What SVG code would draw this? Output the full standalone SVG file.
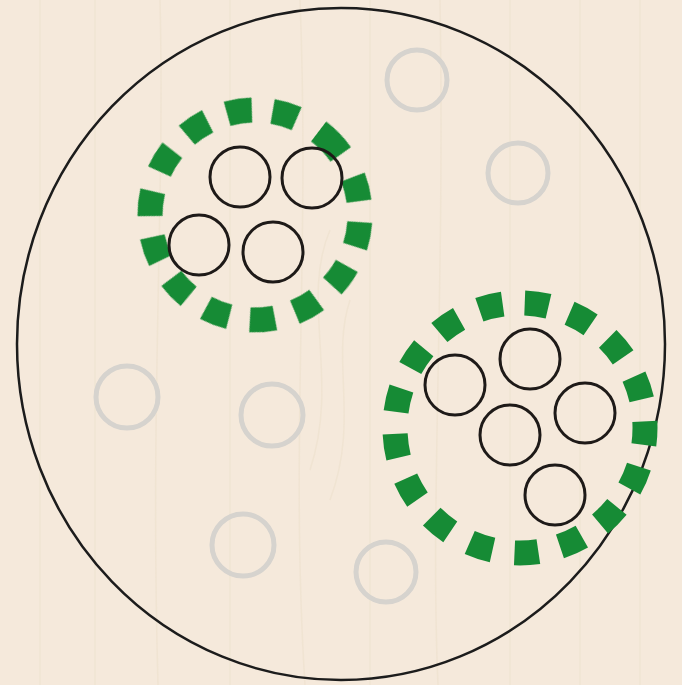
<svg xmlns="http://www.w3.org/2000/svg" width="682" height="685" viewBox="0 0 682 685">
<defs>
<filter id="soft" x="-20%" y="-20%" width="140%" height="140%"><feGaussianBlur stdDeviation="0.7"/></filter>
<filter id="softg" x="-20%" y="-20%" width="140%" height="140%"><feGaussianBlur stdDeviation="0.6"/></filter>
<style>
.bg{fill:#f5e9db}
.grain{stroke:#eee1cf;stroke-width:1.5;fill:none;opacity:0.7}
.outer{fill:none;stroke:#1c1c1c;stroke-width:2.5}
.ring{fill:none;stroke:#1e1a18;stroke-width:3}
.ghost{fill:none;stroke:#d6d3ce;stroke-width:5;filter:url(#soft)}
.group{fill:none;stroke:#178b36;stroke-width:25;filter:url(#softg)}
</style>
</defs>
<rect class="bg" x="0" y="0" width="682" height="685"/>
<g id="grain">
<path class="grain" d="M40 0 V685 M95 0 V685 M160 0 C165 200 150 400 158 685 M230 0 V685 M300 0 C310 250 290 450 305 685 M370 0 V685 M440 0 C445 300 430 500 438 685 M510 0 V685 M580 0 V685 M640 0 V685"/>
<path class="grain" d="M330 230 C300 300 340 380 310 470 M350 300 C330 360 360 420 330 500"/>
</g>
<g id="boundary">
<ellipse class="outer" cx="341" cy="344" rx="324" ry="336"/>
</g>
<g id="cluster-top-left">
<circle class="group" cx="255" cy="215" r="105" transform="rotate(307.3 255 215)" stroke-dasharray="32 25.7 25 20.9 25 20.9 25 20.9 25 20.9 25 20.9 25 20.9 25 20.9 25 20.9 25 20.9 25 20.9 25 20.9 25 20.9 25 26.2"/>
<circle class="ring" cx="240" cy="177" r="30"/>
<circle class="ring" cx="312" cy="178" r="30"/>
<circle class="ring" cx="199" cy="245" r="30"/>
<circle class="ring" cx="273" cy="252" r="30"/>
</g>
<g id="cluster-right">
<circle class="group" cx="520" cy="428" r="125" stroke-dasharray="24 22.2" stroke-dashoffset="7"/>
<circle class="ring" cx="455" cy="385" r="30"/>
<circle class="ring" cx="530" cy="359" r="30"/>
<circle class="ring" cx="585" cy="413" r="30"/>
<circle class="ring" cx="510" cy="435" r="30"/>
<circle class="ring" cx="555" cy="495" r="30"/>
</g>
<g id="loose">
<circle class="ghost" cx="417" cy="80" r="30"/>
<circle class="ghost" cx="518" cy="173" r="30"/>
<circle class="ghost" cx="127" cy="397" r="31"/>
<circle class="ghost" cx="272" cy="415" r="31"/>
<circle class="ghost" cx="243" cy="545" r="31"/>
<circle class="ghost" cx="386" cy="572" r="30"/>
</g>
</svg>
